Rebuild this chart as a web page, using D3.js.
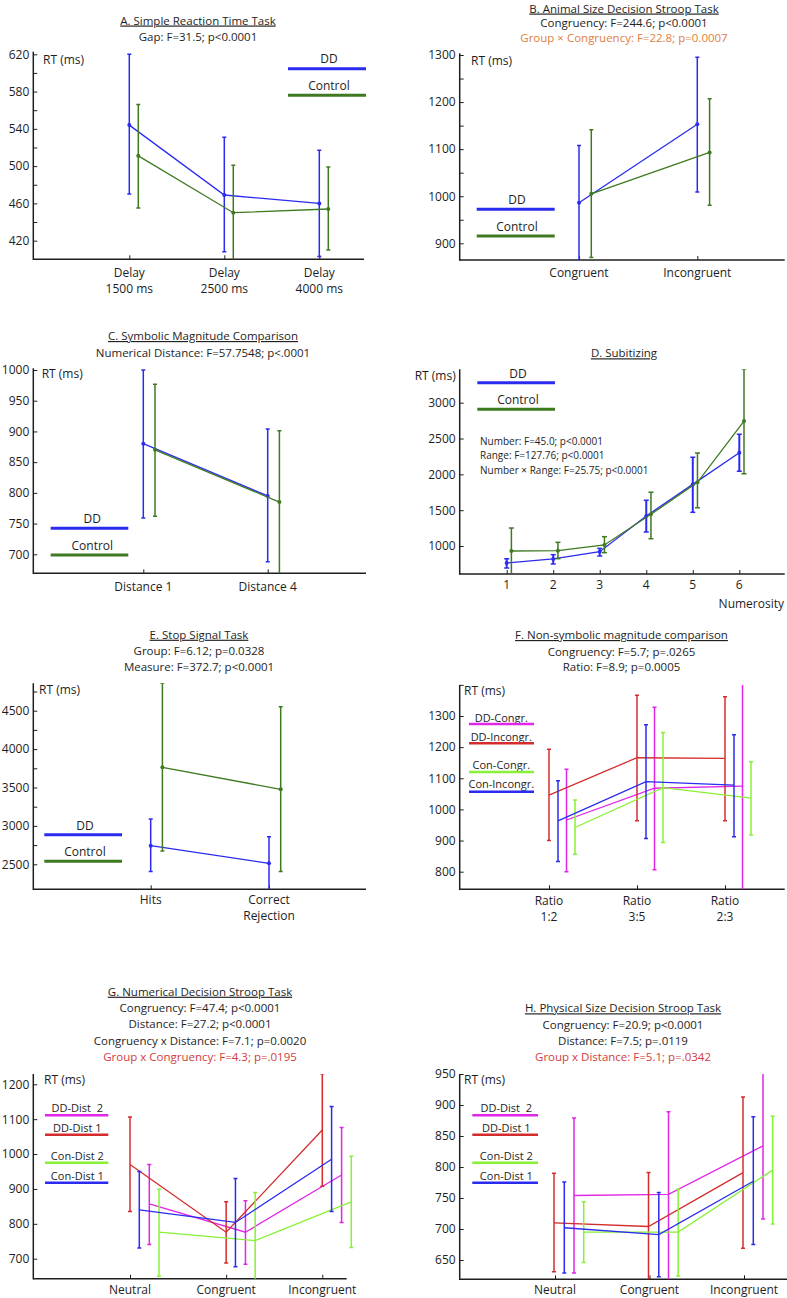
<!DOCTYPE html>
<html><head><meta charset="utf-8">
<script src="https://cdn.jsdelivr.net/npm/d3@7"></script>
<style>
body{margin:0;background:#fff}
svg text{font-family:"Open Sans",sans-serif;fill:#1e1e1e;white-space:pre}
</style></head><body>
<svg id="c" width="787" height="1298"></svg>
<script>
// ---------------- DATA ----------------
// A. Simple Reaction Time Task
const A_title = "A. Simple Reaction Time Task";
const A_stats = ["Gap: F=31.5; p<0.0001"];
const A_cats = [["Delay","1500 ms"],["Delay","2500 ms"],["Delay","4000 ms"]];
const A_groups = ["DD","Control"];
const A_DD = [544, 469, 460], A_DD_lo = [470, 408, 403], A_DD_hi = [620, 531, 517];
const A_Con = [511, 450, 454], A_Con_lo = [455, 395, 410], A_Con_hi = [566, 501, 499];
const A_yMajor = [420, 460, 500, 540, 580, 620], A_yMinor = [440, 480, 520, 560, 600];

// B. Animal Size Decision Stroop Task
const B_title = "B. Animal Size Decision Stroop Task";
const B_stats = ["Congruency: F=244.6; p<0.0001", "Group × Congruency: F=22.8; p=0.0007"];
const B_cats = [["Congruent"],["Incongruent"]];
const B_groups = ["DD","Control"];
const B_DD = [986, 1153], B_DD_lo = [855, 1009], B_DD_hi = [1108, 1295];
const B_Con = [1005, 1093], B_Con_lo = [870, 981], B_Con_hi = [1141, 1207];
const B_yMajor = [900, 1000, 1100, 1200, 1300], B_yMinor = [950, 1050, 1150, 1250];

// C. Symbolic Magnitude Comparison
const C_title = "C. Symbolic Magnitude Comparison";
const C_stats = ["Numerical Distance: F=57.7548; p<.0001"];
const C_cats = [["Distance 1"],["Distance 4"]];
const C_groups = ["DD","Control"];
const C_DD = [880, 795], C_DD_lo = [759, 688], C_DD_hi = [1000, 904];
const C_Con = [870, 785], C_Con_lo = [762, 655], C_Con_hi = [977, 901];
const C_yMajor = [700, 750, 800, 850, 900, 950, 1000], C_yMinor = [];

// D. Subitizing
const D_title = "D. Subitizing";
const D_stats = ["Number: F=45.0; p<0.0001", "Range: F=127.76; p<0.0001", "Number × Range: F=25.75; p<0.0001"];
const D_cats = [["1"],["2"],["3"],["4"],["5"],["6"]];
const D_xTitle = "Numerosity";
const D_groups = ["DD","Control"];
const D_DD = [763, 819, 921, 1419, 1860, 2302], D_DD_lo = [693, 749, 860, 1195, 1470, 2042], D_DD_hi = [823, 879, 967, 1637, 2237, 2558];
const D_Con = [930, 935, 1014, 1442, 1888, 2744], D_Con_lo = [560, 823, 907, 1102, 1535, 2009], D_Con_hi = [1251, 1051, 1130, 1749, 2297, 3469];
const D_yMajor = [1000, 1500, 2000, 2500, 3000], D_yMinor = [];

// E. Stop Signal Task
const E_title = "E. Stop Signal Task";
const E_stats = ["Group: F=6.12; p=0.0328", "Measure: F=372.7; p<0.0001"];
const E_cats = [["Hits"],["Correct","Rejection"]];
const E_groups = ["DD","Control"];
const E_DD = [2743, 2513], E_DD_lo = [2405, 2100], E_DD_hi = [3090, 2860];
const E_Con = [3763, 3476], E_Con_lo = [2674, 2405], E_Con_hi = [4856, 4552];
const E_yMajor = [2500, 3000, 3500, 4000, 4500], E_yMinor = [2750, 3250, 3750, 4250, 4750];

// F. Non-symbolic magnitude comparison
const F_title = "F. Non-symbolic magnitude comparison";
const F_stats = ["Congruency: F=5.7; p=.0265", "Ratio: F=8.9; p=0.0005"];
const F_cats = [["Ratio","1:2"],["Ratio","3:5"],["Ratio","2:3"]];
const F_groups = ["DD-Congr.","DD-Incongr.","Con-Congr.","Con-Incongr."];
const F_DDCongr = [966, 1068, 1075], F_DDCongr_lo = [800, 806, 700], F_DDCongr_hi = [1129, 1328, 1405];
const F_DDIncongr = [1046, 1166, 1164], F_DDIncongr_lo = [900, 964, 964], F_DDIncongr_hi = [1193, 1367, 1362];
const F_ConCongr = [942, 1070, 1036], F_ConCongr_lo = [856, 894, 918], F_ConCongr_hi = [1030, 1247, 1153];
const F_ConIncongr = [963, 1089, 1078], F_ConIncongr_lo = [833, 907, 912], F_ConIncongr_hi = [1092, 1272, 1240];
const F_yMajor = [800, 900, 1000, 1100, 1200, 1300], F_yMinor = [1400];

// G. Numerical Decision Stroop Task
const G_title = "G. Numerical Decision Stroop Task";
const G_stats = ["Congruency: F=47.4; p<0.0001", "Distance: F=27.2; p<0.0001", "Congruency x Distance: F=7.1; p=0.0020", "Group x Congruency: F=4.3; p=.0195"];
const G_cats = [["Neutral"],["Congruent"],["Incongruent"]];
const G_groups = ["DD-Dist  2","DD-Dist 1","Con-Dist 2","Con-Dist 1"];
const G_DDDist2 = [857, 776, 940], G_DDDist2_lo = [741, 684, 804], G_DDDist2_hi = [970, 866, 1076];
const G_DDDist1 = [970, 776, 1069], G_DDDist1_lo = [835, 688, 908], G_DDDist1_hi = [1106, 863, 1230];
const G_ConDist2 = [776, 752, 863], G_ConDist2_lo = [650, 630, 732], G_ConDist2_hi = [899, 890, 994];
const G_ConDist1 = [840, 804, 985], G_ConDist1_lo = [731, 677, 835], G_ConDist1_hi = [950, 930, 1136];
const G_yMajor = [700, 800, 900, 1000, 1100, 1200], G_yMinor = [];

// H. Physical Size Decision Stroop Task
const H_title = "H. Physical Size Decision Stroop Task";
const H_stats = ["Congruency: F=20.9; p<0.0001", "Distance: F=7.5; p=.0119", "Group x Distance: F=5.1; p=.0342"];
const H_cats = [["Neutral"],["Congruent"],["Incongruent"]];
const H_groups = ["DD-Dist  2","DD-Dist 1","Con-Dist 2","Con-Dist 1"];
const H_DDDist2 = [754, 756, 834], H_DDDist2_lo = [629, 610, 716], H_DDDist2_hi = [879, 889, 952];
const H_DDDist1 = [710, 704, 791], H_DDDist1_lo = [631, 600, 669], H_DDDist1_hi = [790, 791, 913];
const H_ConDist2 = [695, 695, 795], H_ConDist2_lo = [646, 624, 708], H_ConDist2_hi = [744, 764, 882];
const H_ConDist1 = [702, 691, 777], H_ConDist1_lo = [629, 623, 675], H_ConDist1_hi = [776, 759, 881];
const H_yMajor = [650, 700, 750, 800, 850, 900, 950], H_yMinor = [];

// ---------------- STYLE / LAYOUT ----------------
const BLUE="#2b2bf0", DGREEN="#3e7a20", RED="#d42c2c", MAG="#e026e6", LGREEN="#88f036", ORANGE="#e07e3e", RTEXT="#d23c3c";
const INK="#1e1e1e";

const panels = [
 {id:"A", title:A_title, stats:A_stats, statColors:[INK], cats:A_cats,
  ax:[33.3,364], axB:259.3, cx:[129.3,319.3], yv:[400,620], yp:[259.3,54.3], ytop:51.7, major:A_yMajor, minor:A_yMinor, dots:true,
  tpos:{x:198,y:20.5}, spos:[36.7], rt:{x:43,y:60,a:"start"}, xly:272.7,
  leg:{tx:329, lx:[288,366], ty:[59,85.3], ly:[68.7,95.3], fs:12, lw:3},
  series:[{n:A_groups[0],c:BLUE,m:A_DD,lo:A_DD_lo,hi:A_DD_hi,dx:0},{n:A_groups[1],c:DGREEN,m:A_Con,lo:A_Con_lo,hi:A_Con_hi,dx:9}]},
 {id:"B", title:B_title, stats:B_stats, statColors:[INK,ORANGE], cats:B_cats,
  ax:[459.7,784.7], axB:260, cx:[579,697.3], yv:[900,1300], yp:[243.3,55], ytop:53.3, major:B_yMajor, minor:B_yMinor, dots:true,
  tpos:{x:624,y:8.5}, spos:[23.3,38.3], rt:{x:471,y:60.7,a:"start"}, xly:272.7,
  leg:{tx:517, lx:[476.7,554.7], ty:[200,226.7], ly:[209.3,236], fs:12, lw:3},
  series:[{n:B_groups[0],c:BLUE,m:B_DD,lo:B_DD_lo,hi:B_DD_hi,dx:0},{n:B_groups[1],c:DGREEN,m:B_Con,lo:B_Con_lo,hi:B_Con_hi,dx:12.3}]},
 {id:"C", title:C_title, stats:C_stats, statColors:[INK], cats:C_cats,
  ax:[33.3,366], axB:573.3, cx:[143.3,267.7], yv:[700,1000], yp:[554.3,370], ytop:368.3, major:C_yMajor, minor:C_yMinor, dots:true,
  tpos:{x:203,y:336}, spos:[352.7], rt:{x:41.7,y:373.3,a:"start"}, xly:586.7,
  leg:{tx:92.3, lx:[50.7,128.3], ty:[519,545.7], ly:[528.3,555], fs:12, lw:3},
  series:[{n:C_groups[0],c:BLUE,m:C_DD,lo:C_DD_lo,hi:C_DD_hi,dx:0},{n:C_groups[1],c:DGREEN,m:C_Con,lo:C_Con_lo,hi:C_Con_hi,dx:11.7}]},
 {id:"D", title:D_title, stats:[], statColors:[], cats:D_cats,
  ax:[459.7,784.7], axB:574, cx:[506.7,739.3], yv:[1000,3000], yp:[546,402.7], ytop:369.3, major:D_yMajor, minor:D_yMinor, dots:true, cap:2.5,
  tpos:{x:624,y:353.3}, spos:[], rt:{x:455.7,y:376,a:"end"}, xly:585,
  leg:{tx:518, lx:[477.3,555], ty:[373.3,400], ly:[382.7,409.3], fs:12, lw:3},
  notes:{x:480, y:[441,455.7,470], t:D_stats}, xTitle:{t:D_xTitle, x:751.3, y:603.3},
  series:[{n:D_groups[0],c:BLUE,m:D_DD,lo:D_DD_lo,hi:D_DD_hi,dx:0,ew:2},{n:D_groups[1],c:DGREEN,m:D_Con,lo:D_Con_lo,hi:D_Con_hi,dx:4.7}]},
 {id:"E", title:E_title, stats:E_stats, statColors:[INK,INK], cats:E_cats,
  ax:[33.3,366], axB:889.3, cx:[150.7,269], yv:[2500,4500], yp:[864.3,710.7], ytop:683.3, major:E_yMajor, minor:E_yMinor, dots:true,
  tpos:{x:199,y:634.7}, spos:[651.3,667], rt:{x:39,y:689.3,a:"start"}, xly:900,
  leg:{tx:85, lx:[44.3,122], ty:[826,851.3], ly:[834.7,861.3], fs:12, lw:3},
  series:[{n:E_groups[0],c:BLUE,m:E_DD,lo:E_DD_lo,hi:E_DD_hi,dx:0},{n:E_groups[1],c:DGREEN,m:E_Con,lo:E_Con_lo,hi:E_Con_hi,dx:11.7}]},
 {id:"F", title:F_title, stats:F_stats, statColors:[INK,INK], cats:F_cats,
  ax:[459.7,784.7], axB:889.3, cx:[549,725], yv:[800,1300], yp:[871.7,716], ytop:685, major:F_yMajor, minor:F_yMinor, dots:false,
  tpos:{x:621.5,y:635}, spos:[651.7,667.3], rt:{x:464,y:690.7,a:"start"}, xly:900.7,
  leg:{tx:501.3, lx:[469,534], ty:[717.7,736.7,765.3,784.3], ly:[724,743.3,772,791.7], fs:11, lw:2.5},
  series:[{n:F_groups[0],c:MAG,m:F_DDCongr,lo:F_DDCongr_lo,hi:F_DDCongr_hi,dx:17.5},
          {n:F_groups[1],c:RED,m:F_DDIncongr,lo:F_DDIncongr_lo,hi:F_DDIncongr_hi,dx:0},
          {n:F_groups[2],c:LGREEN,m:F_ConCongr,lo:F_ConCongr_lo,hi:F_ConCongr_hi,dx:26},
          {n:F_groups[3],c:BLUE,m:F_ConIncongr,lo:F_ConIncongr_lo,hi:F_ConIncongr_hi,dx:9}]},
 {id:"G", title:G_title, stats:G_stats, statColors:[INK,INK,INK,RTEXT], cats:G_cats,
  ax:[33.3,346.7], axB:1278.7, cx:[130,322.3], yv:[700,1200], yp:[1258.7,1084.3], ytop:1074, major:G_yMajor, minor:G_yMinor, dots:false,
  tpos:{x:200,y:991.7}, spos:[1008.3,1024.3,1040.7,1057.3], rt:{x:44,y:1079.3,a:"start"}, xly:1290,
  leg:{tx:77.3, lx:[45,108.3], ty:[1108.3,1128,1156,1176], ly:[1115.3,1134.7,1162.7,1182.7], fs:11, lw:2.5},
  series:[{n:G_groups[0],c:MAG,m:G_DDDist2,lo:G_DDDist2_lo,hi:G_DDDist2_hi,dx:19.3},
          {n:G_groups[1],c:RED,m:G_DDDist1,lo:G_DDDist1_lo,hi:G_DDDist1_hi,dx:0},
          {n:G_groups[2],c:LGREEN,m:G_ConDist2,lo:G_ConDist2_lo,hi:G_ConDist2_hi,dx:29},
          {n:G_groups[3],c:BLUE,m:G_ConDist1,lo:G_ConDist1_lo,hi:G_ConDist1_hi,dx:9.3}]},
 {id:"H", title:H_title, stats:H_stats, statColors:[INK,INK,RTEXT], cats:H_cats,
  ax:[459.7,790], axB:1279.3, cx:[555,744], yv:[650,950], yp:[1260,1074], ytop:1074, major:H_yMajor, minor:H_yMinor, dots:false,
  tpos:{x:623,y:1008.3}, spos:[1025,1040.7,1057.3], rt:{x:464,y:1080,a:"start"}, xly:1290,
  leg:{tx:506.3, lx:[472.3,538], ty:[1108.3,1128,1156,1176], ly:[1115.3,1134.7,1162.7,1182.7], fs:11, lw:2.5},
  series:[{n:H_groups[0],c:MAG,m:H_DDDist2,lo:H_DDDist2_lo,hi:H_DDDist2_hi,dx:19},
          {n:H_groups[1],c:RED,m:H_DDDist1,lo:H_DDDist1_lo,hi:H_DDDist1_hi,dx:-1},
          {n:H_groups[2],c:LGREEN,m:H_ConDist2,lo:H_ConDist2_lo,hi:H_ConDist2_hi,dx:28.7},
          {n:H_groups[3],c:BLUE,m:H_ConDist1,lo:H_ConDist1_lo,hi:H_ConDist1_hi,dx:9.3}]}
];

const svg = d3.select("#c");
const defs = svg.append("defs");

function drawPanel(p){
  const g = svg.append("g").attr("class","panel-"+p.id);
  const y = d3.scaleLinear().domain(p.yv).range(p.yp);
  const x = d3.scaleLinear().domain([0, p.cats.length-1]).range(p.cx);
  const axB = p.axB;

  // clip
  const cid = "clip"+p.id;
  defs.append("clipPath").attr("id",cid).append("rect")
    .attr("x",p.ax[0]).attr("y",p.ytop).attr("width",p.ax[1]-p.ax[0]+40).attr("height",axB-p.ytop);

  // Y axis
  const yAx = g.append("g").attr("transform",`translate(${p.ax[0]},0)`)
    .call(d3.axisLeft(y).tickValues(p.major).tickSize(-4).tickPadding(4).tickFormat(d3.format("d")));
  yAx.select(".domain").remove();
  yAx.selectAll("line").attr("stroke",INK).attr("stroke-width",1);
  yAx.selectAll("text").attr("font-size",12).attr("font-family","Open Sans").attr("fill","#2a2a2a");
  if (p.minor.length){
    const ym = g.append("g").attr("transform",`translate(${p.ax[0]},0)`)
      .call(d3.axisLeft(y).tickValues(p.minor).tickSize(-4).tickFormat(""));
    ym.select(".domain").remove();
    ym.selectAll("line").attr("stroke",INK).attr("stroke-width",1);
  }
  // X axis
  const xAx = g.append("g").attr("transform",`translate(0,${axB})`)
    .call(d3.axisBottom(x).tickValues(d3.range(p.cats.length)).tickSize(-4).tickFormat(""));
  xAx.select(".domain").remove();
  xAx.selectAll("line").attr("stroke",INK).attr("stroke-width",1);
  // axis lines
  g.append("line").attr("x1",p.ax[0]).attr("x2",p.ax[0]).attr("y1",p.ytop).attr("y2",axB+0.75)
    .attr("stroke",INK).attr("stroke-width",1.5);
  g.append("line").attr("x1",p.ax[0]).attr("x2",p.ax[1]).attr("y1",axB).attr("y2",axB)
    .attr("stroke",INK).attr("stroke-width",1.5);
  // x labels
  p.cats.forEach((lines,i)=>{
    const t = g.append("text").attr("x",x(i)).attr("y",p.xly).attr("text-anchor","middle").attr("font-size",12);
    lines.forEach((s,j)=>t.append("tspan").attr("x",x(i)).attr("dy", j===0?"0.35em":"16").text(s));
  });
  if (p.xTitle) g.append("text").attr("x",p.xTitle.x).attr("y",p.xTitle.y).attr("dy","0.35em")
      .attr("text-anchor","middle").attr("font-size",12).text(p.xTitle.t);

  // Title & stats
  g.append("text").attr("x",p.tpos.x).attr("y",p.tpos.y).attr("dy","0.35em").attr("text-anchor","middle")
    .attr("font-size",11.5).style("text-decoration","underline").text(p.title);
  p.stats.forEach((s,i)=>{
    if (p.spos[i]===undefined) return;
    g.append("text").attr("x",p.tpos.x).attr("y",p.spos[i]).attr("dy","0.35em").attr("text-anchor","middle")
      .attr("font-size",11.5).style("fill",p.statColors[i]).text(s);
  });
  if (p.notes){
    p.notes.t.forEach((s,i)=>g.append("text").attr("x",p.notes.x).attr("y",p.notes.y[i]).attr("dy","0.35em")
      .attr("font-size",10).text(s));
  }
  // RT label
  g.append("text").attr("x",p.rt.x).attr("y",p.rt.y).attr("dy","0.35em").attr("text-anchor",p.rt.a)
    .attr("font-size",12).text("RT (ms)");

  // Legend
  p.series.forEach((s,i)=>{
    g.append("text").attr("x",p.leg.tx).attr("y",p.leg.ty[i]).attr("dy","0.35em").attr("text-anchor","middle")
      .attr("font-size",p.leg.fs).text(s.n);
    g.append("line").attr("x1",p.leg.lx[0]).attr("x2",p.leg.lx[1]).attr("y1",p.leg.ly[i]).attr("y2",p.leg.ly[i])
      .attr("stroke",s.c).attr("stroke-width",p.leg.lw);
  });

  // Data
  const dg = g.append("g").attr("clip-path",`url(#${cid})`);
  const cap = p.cap || 2;
  p.series.forEach(s=>{
    const pts = s.m.map((v,i)=>[x(i)+s.dx, y(v)]);
    dg.append("path").attr("d", d3.line()(pts)).attr("fill","none").attr("stroke",s.c).attr("stroke-width",1.3);
    s.m.forEach((v,i)=>{
      const cx = x(i)+s.dx, y1 = y(s.lo[i]), y2 = y(s.hi[i]);
      const ew = s.ew || 1.5;
      dg.append("line").attr("x1",cx).attr("x2",cx).attr("y1",y1).attr("y2",y2).attr("stroke",s.c).attr("stroke-width",ew);
      [y1,y2].forEach(yy=>dg.append("line").attr("x1",cx-cap).attr("x2",cx+cap).attr("y1",yy).attr("y2",yy)
        .attr("stroke",s.c).attr("stroke-width",1.5));
      if (p.dots) dg.append("circle").attr("cx",cx).attr("cy",y(v)).attr("r",2).attr("fill",s.c);
    });
  });
}
panels.forEach(drawPanel);
</script>
</body></html>
